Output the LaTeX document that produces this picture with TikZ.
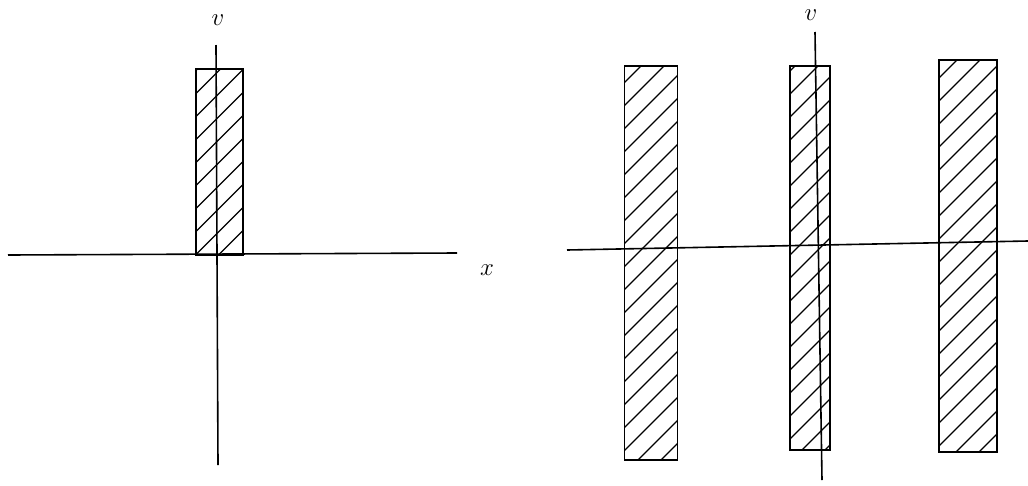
\documentclass[tikz,border=0pt]{standalone}
\begin{document}
\begin{tikzpicture}[x=1pt,y=-1pt,line width=1.6pt,
  strip/.style={draw, minimum width=#1, inner sep=0pt, outer sep=0pt,
    path picture={\foreach \k in {-25,...,25}
      \draw[line width=1.1pt] ([yshift=\k*23pt]path picture bounding box.center) ++(-40pt,-40pt) -- ++(80pt,80pt);}},
  lab/.style={font=\fontsize{30}{32}\selectfont, inner sep=1pt}]
\useasboundingbox (0,0) rectangle (1028,485);
% left picture
\node[strip=47pt, minimum height=186pt] (cell) at (219.5,162) {};
\coordinate (ax1l) at (8,255);
\coordinate (ax1r) at (457,253);
\coordinate (av1t) at (216,45);
\coordinate (av1b) at (218,465);
\draw (ax1l) -- (ax1r);
\draw (av1t) -- (av1b);
\node[lab] (xlab) at (487,270) {$x$};
\node[lab] (vlab1) at (218,20) {$v$};
% right picture
\node[strip=53pt, minimum height=394pt] (stripl) at (651,263) {};
\node[strip=40pt, minimum height=384pt] (stripm) at (810,258) {};
\node[strip=58pt, minimum height=392pt] (stripr) at (968,256) {};
\coordinate (ax2l) at (567,250);
\coordinate (ax2r) at (1028,241);
\coordinate (av2t) at (815,32);
\coordinate (av2b) at (822,480);
\draw (ax2l) -- (ax2r);
\draw (av2t) -- (av2b);
\node[lab] (vlab2) at (811,15) {$v$};
\end{tikzpicture}
\end{document}
